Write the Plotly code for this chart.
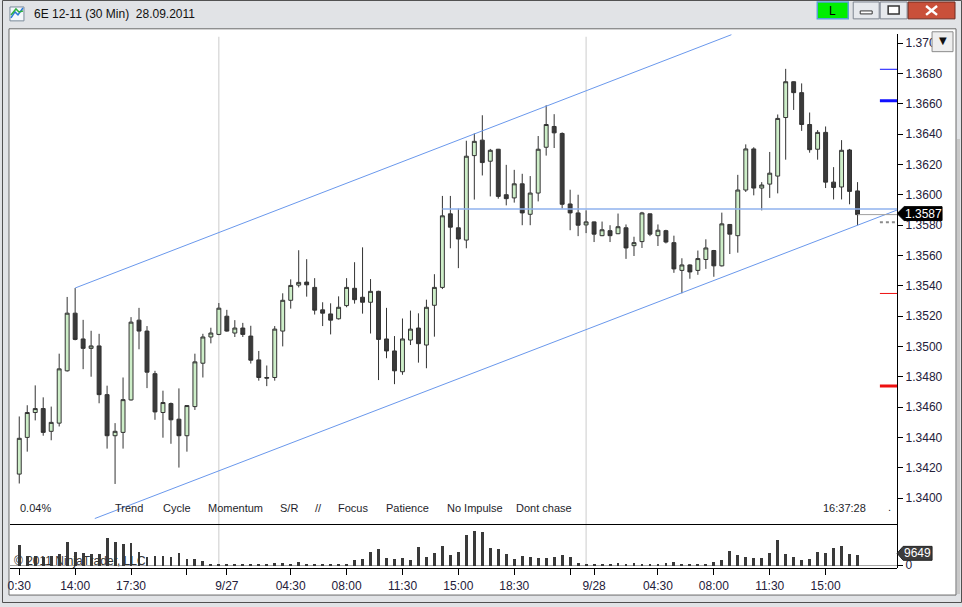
import plotly.graph_objects as go

W, H = 962, 607


def px(x):
    return x / W


def py(y):
    return 1 - y / H


# 30 min bars of 6E 12-11, oldest first
bar_open = [1.34159, 1.34401, 1.34565, 1.34591, 1.34441, 1.34495, 1.34840, 1.35220, 1.35050, 1.34988,
            1.35004, 1.34683, 1.34412, 1.34434, 1.34648, 1.35174, 1.35102, 1.34821, 1.34565, 1.34624,
            1.34521, 1.34412, 1.34604, 1.34890, 1.35063, 1.35080, 1.35200, 1.35089, 1.35122, 1.35069,
            1.34912, 1.34796, 1.34796, 1.35102, 1.35305, 1.35405, 1.35425, 1.35390, 1.35242, 1.35215,
            1.35183, 1.35270, 1.35384, 1.35325, 1.35292, 1.35364, 1.35050, 1.34971, 1.34834, 1.35043,
            1.35122, 1.35010, 1.35272, 1.35390, 1.35875, 1.35783, 1.35702, 1.36259, 1.36361, 1.36222,
            1.36301, 1.36001, 1.35980, 1.36073, 1.35872, 1.36012, 1.36314, 1.36451, 1.36405, 1.35940,
            1.35881, 1.35802, 1.35822, 1.35731, 1.35764, 1.35744, 1.35783, 1.35665, 1.35692, 1.35875,
            1.35731, 1.35764, 1.35685, 1.35502, 1.35538, 1.35502, 1.35574, 1.35633, 1.35532, 1.35805,
            1.35731, 1.36032, 1.36303, 1.36045, 1.36071, 1.36124, 1.36510, 1.36746, 1.36674, 1.36464,
            1.36301, 1.36412, 1.36084, 1.36052, 1.36296, 1.36026]
bar_high = [1.34539, 1.34613, 1.34744, 1.34665, 1.34604, 1.34953, 1.35327, 1.35386, 1.35176, 1.35104,
            1.35084, 1.34742, 1.34495, 1.34796, 1.35194, 1.35255, 1.35135, 1.34840, 1.34709, 1.34631,
            1.34724, 1.34611, 1.34953, 1.35084, 1.35124, 1.35287, 1.35242, 1.35174, 1.35156, 1.35137,
            1.34971, 1.34875, 1.35135, 1.35351, 1.35443, 1.35635, 1.35576, 1.35451, 1.35292, 1.35285,
            1.35331, 1.35451, 1.35556, 1.35654, 1.35445, 1.35368, 1.35255, 1.35069, 1.35185, 1.35237,
            1.35219, 1.35309, 1.35477, 1.35993, 1.35993, 1.35910, 1.36357, 1.36405, 1.36525, 1.36303,
            1.36303, 1.36198, 1.36165, 1.36139, 1.36124, 1.36388, 1.36591, 1.36532, 1.36412, 1.36034,
            1.36001, 1.35898, 1.35824, 1.35824, 1.35800, 1.35877, 1.35805, 1.35724, 1.35888, 1.35877,
            1.35805, 1.35770, 1.35731, 1.35582, 1.35542, 1.35633, 1.35707, 1.35637, 1.35883, 1.35808,
            1.36132, 1.36333, 1.36314, 1.36084, 1.36283, 1.36530, 1.36831, 1.36748, 1.36735, 1.36543,
            1.36427, 1.36451, 1.36183, 1.36361, 1.36303, 1.36084]
bar_low = [1.34097, 1.34307, 1.34513, 1.34412, 1.34382, 1.34473, 1.34835, 1.35041, 1.34851, 1.34801,
           1.34626, 1.34327, 1.34094, 1.34327, 1.34644, 1.34982, 1.34726, 1.34517, 1.34399, 1.34359,
           1.34202, 1.34307, 1.34582, 1.34796, 1.35021, 1.35075, 1.35098, 1.35063, 1.35063, 1.34888,
           1.34775, 1.34739, 1.34775, 1.35001, 1.35250, 1.35390, 1.35329, 1.35211, 1.35135, 1.35080,
           1.35178, 1.35259, 1.35283, 1.35217, 1.35086, 1.34779, 1.34923, 1.34752, 1.34814, 1.35010,
           1.34894, 1.34857, 1.35065, 1.35379, 1.35648, 1.35517, 1.35648, 1.35969, 1.36128, 1.35990,
           1.35975, 1.35931, 1.35949, 1.35800, 1.35800, 1.35957, 1.36259, 1.36309, 1.35910, 1.35767,
           1.35728, 1.35748, 1.35689, 1.35728, 1.35689, 1.35741, 1.35578, 1.35597, 1.35650, 1.35728,
           1.35663, 1.35680, 1.35486, 1.35351, 1.35447, 1.35473, 1.35512, 1.35460, 1.35528, 1.35610,
           1.35619, 1.36019, 1.35997, 1.35898, 1.35980, 1.36010, 1.36232, 1.36560, 1.36422, 1.36278,
           1.36232, 1.36045, 1.35970, 1.35970, 1.35938, 1.35800]
bar_close = [1.34395, 1.34565, 1.34591, 1.34434, 1.34500, 1.34853, 1.35220, 1.35047, 1.34988, 1.35004,
             1.34683, 1.34412, 1.34441, 1.34650, 1.35161, 1.35102, 1.34831, 1.34569, 1.34631, 1.34517,
             1.34412, 1.34611, 1.34899, 1.35063, 1.35089, 1.35253, 1.35102, 1.35122, 1.35080, 1.34910,
             1.34796, 1.34792, 1.35115, 1.35305, 1.35403, 1.35423, 1.35407, 1.35240, 1.35220, 1.35174,
             1.35259, 1.35390, 1.35309, 1.35292, 1.35364, 1.35047, 1.34971, 1.34840, 1.35050, 1.35115,
             1.35019, 1.35259, 1.35390, 1.35862, 1.35787, 1.35709, 1.36255, 1.36353, 1.36213, 1.36294,
             1.35990, 1.35975, 1.36073, 1.35881, 1.36012, 1.36301, 1.36464, 1.36409, 1.35938, 1.35881,
             1.35800, 1.35822, 1.35741, 1.35770, 1.35731, 1.35790, 1.35650, 1.35685, 1.35881, 1.35741,
             1.35767, 1.35689, 1.35512, 1.35538, 1.35492, 1.35580, 1.35650, 1.35532, 1.35809, 1.35741,
             1.36032, 1.36303, 1.36045, 1.36065, 1.36143, 1.36504, 1.36746, 1.36674, 1.36464, 1.36298,
             1.36412, 1.36084, 1.36049, 1.36294, 1.36023, 1.35870]
volume = [18200, 8500, 8500, 7700, 8500, 10200, 20500, 12000, 11100, 10200,
          10200, 23900, 20500, 18800, 19600, 12000, 7700, 8500, 8500, 7700,
          11100, 6000, 6000, 4300, 1700, 900, 900, 900, 900, 900,
          1700, 1700, 2600, 2600, 1700, 3400, 1700, 900, 900, 900,
          1700, 1700, 5100, 6000, 12000, 14500, 6800, 6000, 6800, 5100,
          16200, 7700, 11100, 17100, 9400, 12000, 26500, 29900, 29000, 15400,
          14500, 10200, 6000, 8500, 7700, 6800, 6800, 7700, 9400, 7700,
          2600, 900, 900, 900, 900, 2600, 1700, 2600, 1700, 1700,
          1700, 2600, 3400, 900, 900, 900, 1700, 3400, 5100, 12800,
          9400, 7700, 6800, 6800, 11100, 22200, 10200, 7700, 5100, 6000,
          12000, 11100, 15400, 17100, 9700, 9649]
bar_index = list(range(len(bar_close)))

time_tick_bars = [0, 7, 14, 21, 26, 34, 41, 48, 55, 62, 69, 72, 80, 87, 94, 101]
time_tick_text = ["0:30", "14:00", "17:30", "", "9/27", "04:30", "08:00", "11:30", "15:00",
                  "18:30", "", "9/28", "04:30", "08:00", "11:30", "15:00"]
session_bars = [25, 71]
price_ticks = [1.3400, 1.3420, 1.3440, 1.3460, 1.3480, 1.3500, 1.3520, 1.3540,
               1.3560, 1.3580, 1.3600, 1.3620, 1.3640, 1.3660, 1.3680, 1.3700]

# drawn channel (bar index, price)
upper_line_bar = [7, 89.2]
upper_line_price = [1.35386, 1.37056]
lower_line_bar = [9.46, 110]
lower_line_price = [1.33866, 1.35901]
level_bar = [53, 110]
level_price = 1.35907

# order markers at the right edge of the price panel
marker_prices = [1.36828, 1.36621, 1.35350, 1.34740]
marker_colors = ["#1010ff", "#1010ff", "#ee1010", "#ee1010"]
marker_widths = [1, 3, 1, 3]

notes = ["Trend", "Cycle", "Momentum", "S/R", "//", "Focus", "Patience", "No Impulse", "Dont chase"]
note_x = [111, 159, 204, 277, 312, 335, 383, 444, 513]

last_price = bar_close[-1]
last_volume = volume[-1]

font = "Liberation Sans, Arial, sans-serif"
axis_text = "#24203a"


def label(text, x, y, size=11, color="#1e1e2a", xanchor="left", family=font):
    return dict(text=text, x=px(x), y=py(y), xref="paper", yref="paper", xanchor=xanchor,
                yanchor="middle", showarrow=False, font=dict(family=family, size=size, color=color))


fig = go.Figure()

fig.add_trace(go.Candlestick(
    x=bar_index, open=bar_open, high=bar_high, low=bar_low, close=bar_close,
    increasing=dict(line=dict(color="#333333", width=1), fillcolor="#cdeec8"),
    decreasing=dict(line=dict(color="#333333", width=1), fillcolor="#3a3a3a"),
    whiskerwidth=0, xaxis="x", yaxis="y", hoverinfo="skip",
))
fig.add_trace(go.Bar(
    x=bar_index, y=volume, width=0.36, marker=dict(color="#3a3a3a", line=dict(width=0)),
    xaxis="x2", yaxis="y2", hoverinfo="skip",
))

shapes = []
# window frame and chart panel
shapes.append(dict(type="rect", xref="paper", yref="paper", x0=px(7), x1=px(956), y0=py(599), y1=py(29),
                   fillcolor="white", line=dict(color="#6a6a6a", width=1), layer="below"))
shapes.append(dict(type="rect", xref="paper", yref="paper", x0=px(0.5), x1=px(961.5), y0=py(606.5), y1=py(0.5),
                   line=dict(color="#505050", width=1), layer="below"))
shapes.append(dict(type="rect", xref="paper", yref="paper", x0=px(957), x1=px(960), y0=py(598), y1=py(140),
                   fillcolor="#c8c8c8", line=dict(width=0), layer="below"))
# title icon
shapes.append(dict(type="rect", xref="paper", yref="paper", x0=px(8), x1=px(22), y0=py(21), y1=py(7),
                   fillcolor="#f4f8fb", line=dict(color="#7a8a9a", width=1)))
shapes.append(dict(type="path", xref="paper", yref="paper", line=dict(color="#2a7ad8", width=1.5),
                   path=f"M {px(9)},{py(18)} L {px(13)},{py(12)} L {px(16)},{py(15)} L {px(21)},{py(8)}"))
shapes.append(dict(type="path", xref="paper", yref="paper", line=dict(color="#30b040", width=1.5),
                   path=f"M {px(9)},{py(15)} L {px(14)},{py(9)} L {px(17)},{py(12)} L {px(21)},{py(11)}"))
# caption buttons
shapes.append(dict(type="rect", xref="paper", yref="paper", x0=px(817), x1=px(848), y0=py(19), y1=py(2),
                   fillcolor="#00ee00", line=dict(color="#5aa0d8", width=1.5)))
shapes.append(dict(type="rect", xref="paper", yref="paper", x0=px(853), x1=px(879), y0=py(19), y1=py(2),
                   fillcolor="#e6e9ed", line=dict(color="#7d8590", width=1)))
shapes.append(dict(type="rect", xref="paper", yref="paper", x0=px(860), x1=px(872), y0=py(14), y1=py(11),
                   fillcolor="white", line=dict(color="#333333", width=1)))
shapes.append(dict(type="rect", xref="paper", yref="paper", x0=px(880), x1=px(907), y0=py(19), y1=py(2),
                   fillcolor="#e6e9ed", line=dict(color="#7d8590", width=1)))
shapes.append(dict(type="rect", xref="paper", yref="paper", x0=px(888), x1=px(899), y0=py(14), y1=py(6),
                   fillcolor="white", line=dict(color="#333333", width=1.5)))
shapes.append(dict(type="rect", xref="paper", yref="paper", x0=px(908), x1=px(955), y0=py(19), y1=py(2),
                   fillcolor="#c9503a", line=dict(color="#6e2a20", width=1)))
shapes.append(dict(type="path", xref="paper", yref="paper", line=dict(color="white", width=2.5),
                   path=f"M {px(926)},{py(6)} L {px(937)},{py(15)} M {px(937)},{py(6)} L {px(926)},{py(15)}"))

# session separators
for b in session_bars:
    shapes.append(dict(type="line", xref="x", yref="paper", x0=b, x1=b, y0=py(570), y1=py(37),
                       line=dict(color="#cccccc", width=1), layer="below"))

# channel and level lines
shapes.append(dict(type="line", xref="x", yref="y", x0=upper_line_bar[0], x1=upper_line_bar[1],
                   y0=upper_line_price[0], y1=upper_line_price[1], line=dict(color="#6a98ec", width=1)))
shapes.append(dict(type="line", xref="x", yref="y", x0=lower_line_bar[0], x1=lower_line_bar[1],
                   y0=lower_line_price[0], y1=lower_line_price[1], line=dict(color="#6a98ec", width=1)))
shapes.append(dict(type="line", xref="x", yref="y", x0=level_bar[0], x1=level_bar[1],
                   y0=level_price, y1=level_price, line=dict(color="#8fb2ee", width=1.5)))
shapes.append(dict(type="line", xref="x", yref="y", x0=bar_index[-1], x1=110,
                   y0=last_price, y1=last_price, line=dict(color="#a0a0a0", width=1)))

for p, c, w in zip(marker_prices, marker_colors, marker_widths):
    shapes.append(dict(type="line", xref="x", yref="y", x0=107.8, x1=110, y0=p, y1=p,
                       line=dict(color=c, width=w)))
shapes.append(dict(type="line", xref="x", yref="y", x0=107.8, x1=110, y0=1.35819, y1=1.35819,
                   line=dict(color="#8a8a8a", width=2, dash="dot")))

# last price / last volume flags
shapes.append(dict(type="path", xref="paper", yref="paper", fillcolor="black", line=dict(color="black", width=1),
                   layer="above",
                   path=f"M {px(897)},{py(215)} L {px(904)},{py(208)} L {px(942)},{py(208)} "
                        f"L {px(942)},{py(222)} L {px(904)},{py(222)} Z"))
shapes.append(dict(type="path", xref="paper", yref="paper", fillcolor="#3c3c3c", line=dict(color="#222222", width=1),
                   layer="above",
                   path=f"M {px(897)},{py(557)} L {px(903)},{py(550)} L {px(932)},{py(550)} "
                        f"L {px(932)},{py(564)} L {px(903)},{py(564)} Z"))
# dropdown button over the top price label
shapes.append(dict(type="rect", xref="paper", yref="paper", x0=px(932), x1=px(953), y0=py(52), y1=py(32),
                   fillcolor="#eeeeee", line=dict(color="#8a8a8a", width=1), layer="above"))

annotations = [
    label("6E 12-11 (30 Min)  28.09.2011", 30, 14, size=12, color="#111111"),
    label("L", 832.5, 11, size=12, color="black", xanchor="center"),
    label("▼", 942.5, 41, size=10, color="#111111", xanchor="center", family="DejaVu Sans"),
    label("0.04%", 16, 511),
    label("16:37:28", 821, 511),
    label(".", 886, 510),
    label("© 2011 NinjaTrader, LLC", 10, 565, size=12, color="#333333"),
    label(f"{last_price:.4f}", 923, 215, size=12, color="white", xanchor="center"),
    label(f"{last_volume}", 917, 557, size=12, color="white", xanchor="center"),
]
for t, x in zip(notes, note_x):
    annotations.append(label(t, x, 511))

x_range = [-1.1625, 109.96]

fig.update_layout(
    width=W, height=H, autosize=False,
    margin=dict(l=0, r=0, t=0, b=0),
    paper_bgcolor="#e1e3e6", plot_bgcolor="white",
    showlegend=False, bargap=0,
    font=dict(family=font, size=12, color=axis_text),
    xaxis=dict(domain=[px(8), px(897)], range=x_range, anchor="y", showticklabels=False, ticks="",
               showgrid=False, zeroline=False, showline=True, linecolor="black", linewidth=1,
               rangeslider=dict(visible=False), fixedrange=True),
    yaxis=dict(domain=[py(527), py(34)], range=[1.338331, 1.370622], anchor="free", position=px(897),
               side="right", tickvals=price_ticks, tickformat=".4f", ticks="outside", ticklen=5,
               tickcolor="black", showline=True, linecolor="black", linewidth=1, showgrid=False,
               zeroline=False, tickfont=dict(family=font, size=12, color=axis_text), fixedrange=True),
    xaxis2=dict(domain=[px(8), px(897)], range=x_range, anchor="y2", tickvals=time_tick_bars,
                ticktext=time_tick_text, ticks="outside", ticklen=6, tickcolor="black", showline=True,
                linecolor="black", linewidth=1, showgrid=False, zeroline=False,
                tickfont=dict(family=font, size=12, color=axis_text), fixedrange=True),
    yaxis2=dict(domain=[py(572), py(527)], range=[-2562, 35868], anchor="free", position=px(897),
                side="right", tickvals=[0], ticktext=["0"], ticks="outside", ticklen=5, tickcolor="black",
                showline=True, linecolor="black", linewidth=1, showgrid=False, zeroline=True,
                zerolinecolor="#a8a8a8", zerolinewidth=1,
                tickfont=dict(family=font, size=12, color=axis_text), fixedrange=True),
    shapes=shapes,
    annotations=annotations,
)

fig.write_html("out.html", config={"displayModeBar": False},
               post_script="document.body.style.margin='0';document.body.style.overflow='hidden';")
